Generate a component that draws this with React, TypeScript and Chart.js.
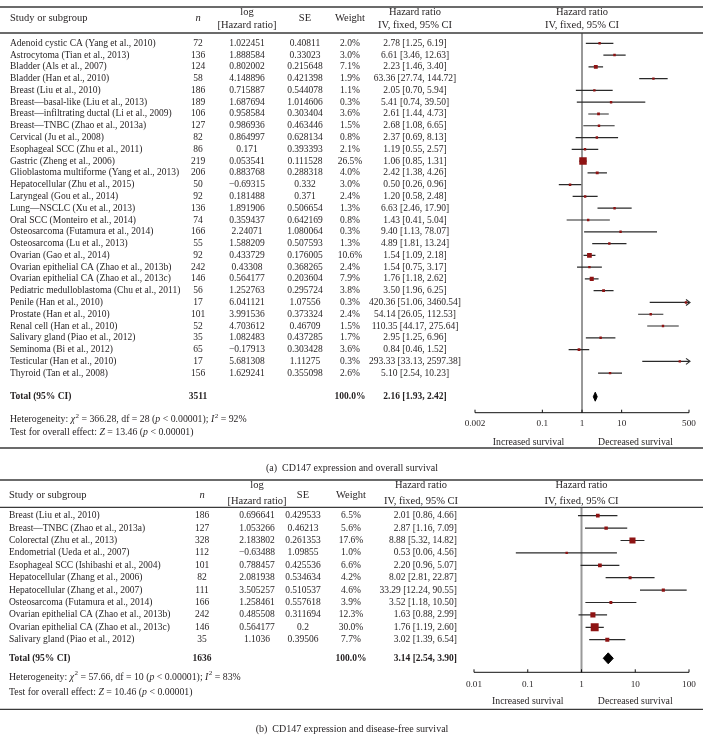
import React, { useEffect, useRef } from "react";
import { Chart, registerables } from "chart.js";
Chart.register(...registerables);

// ---------------- Panel (a): CD147 expression and overall survival ----------------
const studiesA = [
  "Adenoid cystic CA (Yang et al., 2010)",
  "Astrocytoma (Tian et al., 2013)",
  "Bladder (Als et al., 2007)",
  "Bladder (Han et al., 2010)",
  "Breast (Liu et al., 2010)",
  "Breast—basal-like (Liu et al., 2013)",
  "Breast—infiltrating ductal (Li et al., 2009)",
  "Breast—TNBC (Zhao et al., 2013a)",
  "Cervical (Ju et al., 2008)",
  "Esophageal SCC (Zhu et al., 2011)",
  "Gastric (Zheng et al., 2006)",
  "Glioblastoma multiforme (Yang et al., 2013)",
  "Hepatocellular (Zhu et al., 2015)",
  "Laryngeal (Gou et al., 2014)",
  "Lung—NSCLC (Xu et al., 2013)",
  "Oral SCC (Monteiro et al., 2014)",
  "Osteosarcoma (Futamura et al., 2014)",
  "Osteosarcoma (Lu et al., 2013)",
  "Ovarian (Gao et al., 2014)",
  "Ovarian epithelial CA (Zhao et al., 2013b)",
  "Ovarian epithelial CA (Zhao et al., 2013c)",
  "Pediatric medulloblastoma (Chu et al., 2011)",
  "Penile (Han et al., 2010)",
  "Prostate (Han et al., 2010)",
  "Renal cell (Han et al., 2010)",
  "Salivary gland (Piao et al., 2012)",
  "Seminoma (Bi et al., 2012)",
  "Testicular (Han et al., 2010)",
  "Thyroid (Tan et al., 2008)",
];
const nA = [72, 136, 124, 58, 186, 189, 106, 127, 82, 86, 219, 206, 50, 92, 136, 74, 166, 55, 92, 242, 146, 56, 17, 101, 52, 35, 65, 17, 156];
const logHrA = ["1.022451", "1.888584", "0.802002", "4.148896", "0.715887", "1.687694", "0.958584", "0.986936", "0.864997", "0.171", "0.053541", "0.883768", "−0.69315", "0.181488", "1.891906", "0.359437", "2.24071", "1.588209", "0.433729", "0.43308", "0.564177", "1.252763", "6.041121", "3.991536", "4.703612", "1.082483", "−0.17913", "5.681308", "1.629241"];
const seA = ["0.40811", "0.33023", "0.215648", "0.421398", "0.544078", "1.014606", "0.303404", "0.463446", "0.628134", "0.393393", "0.111528", "0.288318", "0.332", "0.371", "0.506654", "0.642169", "1.080064", "0.507593", "0.176005", "0.368265", "0.203604", "0.295724", "1.07556", "0.373324", "0.46709", "0.437285", "0.303428", "1.11275", "0.355098"];
const weightA = [2.0, 3.0, 7.1, 1.9, 1.1, 0.3, 3.6, 1.5, 0.8, 2.1, 26.5, 4.0, 3.0, 2.4, 1.3, 0.8, 0.3, 1.3, 10.6, 2.4, 7.9, 3.8, 0.3, 2.4, 1.5, 1.7, 3.6, 0.3, 2.6];
const hrA = [2.78, 6.61, 2.23, 63.36, 2.05, 5.41, 2.61, 2.68, 2.37, 1.19, 1.06, 2.42, 0.5, 1.2, 6.63, 1.43, 9.4, 4.89, 1.54, 1.54, 1.76, 3.5, 420.36, 54.14, 110.35, 2.95, 0.84, 293.33, 5.1];
const lowerA = [1.25, 3.46, 1.46, 27.74, 0.7, 0.74, 1.44, 1.08, 0.69, 0.55, 0.85, 1.38, 0.26, 0.58, 2.46, 0.41, 1.13, 1.81, 1.09, 0.75, 1.18, 1.96, 51.06, 26.05, 44.17, 1.25, 0.46, 33.13, 2.54];
const upperA = [6.19, 12.63, 3.4, 144.72, 5.94, 39.5, 4.73, 6.65, 8.13, 2.57, 1.31, 4.26, 0.96, 2.48, 17.9, 5.04, 78.07, 13.24, 2.18, 3.17, 2.62, 6.25, 3460.54, 112.53, 275.64, 6.96, 1.52, 2597.38, 10.23];
const totalNA = 3511;
const totalHrA = [2.16, 1.93, 2.42];
const hetA = ["366.28", "28", "0.00001", "92"];
const overallA = ["13.46", "0.00001"];
const ticksA = [0.002, 0.1, 1, 10, 500];
const tickLabelsA = ["0.002", "0.1", "1", "10", "500"];

// ---------------- Panel (b): CD147 expression and disease-free survival ----------------
const studiesB = [
  "Breast (Liu et al., 2010)",
  "Breast—TNBC (Zhao et al., 2013a)",
  "Colorectal (Zhu et al., 2013)",
  "Endometrial (Ueda et al., 2007)",
  "Esophageal SCC (Ishibashi et al., 2004)",
  "Hepatocellular (Zhang et al., 2006)",
  "Hepatocellular (Zhang et al., 2007)",
  "Osteosarcoma (Futamura et al., 2014)",
  "Ovarian epithelial CA (Zhao et al., 2013b)",
  "Ovarian epithelial CA (Zhao et al., 2013c)",
  "Salivary gland (Piao et al., 2012)",
];
const nB = [186, 127, 328, 112, 101, 82, 111, 166, 242, 146, 35];
const logHrB = ["0.696641", "1.053266", "2.183802", "−0.63488", "0.788457", "2.081938", "3.505257", "1.258461", "0.485508", "0.564177", "1.1036"];
const seB = ["0.429533", "0.46213", "0.261353", "1.09855", "0.425536", "0.534634", "0.510537", "0.557618", "0.311694", "0.2", "0.39506"];
const weightB = [6.5, 5.6, 17.6, 1.0, 6.6, 4.2, 4.6, 3.9, 12.3, 30.0, 7.7];
const hrB = [2.01, 2.87, 8.88, 0.53, 2.2, 8.02, 33.29, 3.52, 1.63, 1.76, 3.02];
const lowerB = [0.86, 1.16, 5.32, 0.06, 0.96, 2.81, 12.24, 1.18, 0.88, 1.19, 1.39];
const upperB = [4.66, 7.09, 14.82, 4.56, 5.07, 22.87, 90.55, 10.5, 2.99, 2.6, 6.54];
const totalNB = 1636;
const totalHrB = [3.14, 2.54, 3.9];
const hetB = ["57.66", "10", "0.00001", "83"];
const overallB = ["10.46", "0.00001"];
const ticksB = [0.01, 0.1, 1, 10, 100];
const tickLabelsB = ["0.01", "0.1", "1", "10", "100"];

const FONT = '"Liberation Serif", "Times New Roman", serif';
const TXT = "#231f20";
const W = 703;

type Spec = {
  studies: string[]; n: number[]; logHr: string[]; se: string[]; weight: number[];
  hr: number[]; lower: number[]; upper: number[]; totalN: number; total: number[];
  het: string[]; overall: string[]; ticks: number[]; tickLabels: string[];
  caption: string;
  H: number; ca: { l: number; r: number; t: number; b: number };
  row0: number; step: number; totalRow: number; diamondHalf: number;
  topRule: number; headRule: number; bottomRule: number;
  h1: number; h2: number; hm: number;
  studyX: number; nX: number; logX: number; seX: number; wX: number;
  hrX: number; hrAlign: CanvasTextAlign; hrHeadX: number;
  hetY: number; testY: number; tickY: number; survY: number; capY: number;
  nullColor: string; nullWidth: number; size: number; headSize: number;
};

const fmt = (v: number) => v.toFixed(2);

function ForestPanel({ spec, top }: { spec: Spec; top: number }) {
  const ref = useRef<HTMLCanvasElement>(null);
  useEffect(() => {
    const s = spec;
    const canvas = ref.current!;
    const yMin = (s.ca.t - s.row0) / s.step;
    const yMax = (s.ca.b - s.row0) / s.step;
    const xMin = s.ticks[0];
    const xMax = s.ticks[s.ticks.length - 1];

    const ciSets: any[] = s.hr.map((_, i) => ({
      type: "line",
      data: [{ x: s.lower[i], y: i }, { x: s.upper[i], y: i }],
      borderColor: "#2a2a2a",
      borderWidth: 1.2,
      pointRadius: 0,
      fill: false,
      order: 3,
    }));
    const squares: any = {
      type: "scatter",
      data: s.hr.map((v, i) => ({ x: v, y: i })),
      pointStyle: "rect",
      pointRadius: s.weight.map((w) => Math.max(2.4, 1.45 * Math.sqrt(w)) / (2 * Math.SQRT1_2)),
      backgroundColor: "#8e1313",
      borderWidth: 0,
      order: 2,
    };
    const t = s.totalRow, h = s.diamondHalf;
    const diamond: any = {
      type: "line",
      data: [
        { x: s.total[1], y: t }, { x: s.total[0], y: t - h }, { x: s.total[2], y: t },
        { x: s.total[0], y: t + h }, { x: s.total[1], y: t },
      ],
      borderColor: "#000",
      backgroundColor: "#000",
      borderWidth: 1,
      pointRadius: 0,
      fill: "shape",
      order: 1,
    };

    const line = (ctx: CanvasRenderingContext2D, x1: number, y1: number, x2: number, y2: number) => {
      ctx.beginPath(); ctx.moveTo(x1, y1); ctx.lineTo(x2, y2); ctx.stroke();
    };
    const rich = (ctx: CanvasRenderingContext2D, x: number, y: number, segs: [string, string][]) => {
      let cx = x;
      ctx.textAlign = "left";
      const sz = s.size + 0.3;
      for (const [txt, st] of segs) {
        if (st === "sup") {
          ctx.font = `${sz * 0.72}px ${FONT}`;
          ctx.fillText(txt, cx + 0.5, y - sz * 0.38);
          cx += ctx.measureText(txt).width + 0.5;
        } else {
          ctx.font = `${st === "i" ? "italic " : ""}${sz}px ${FONT}`;
          ctx.fillText(txt, cx, y);
          cx += ctx.measureText(txt).width;
        }
      }
    };

    const decor = {
      id: "decor",
      beforeDatasetsDraw(chart: any) {
        const { ctx, chartArea: ca, scales } = chart;
        const px = scales.x.getPixelForValue(1);
        ctx.save();
        ctx.strokeStyle = s.nullColor;
        ctx.lineWidth = s.nullWidth;
        line(ctx, px, ca.top, px, ca.bottom);
        ctx.restore();
      },
      afterDatasetsDraw(chart: any) {
        const { ctx, chartArea: ca, scales } = chart;
        const x = scales.x, y = scales.y;
        ctx.save();
        // rules
        ctx.strokeStyle = "#3a3a3a";
        ctx.lineWidth = 1.3;
        line(ctx, 0, s.topRule, W, s.topRule);
        line(ctx, 0, s.headRule, W, s.headRule);
        line(ctx, 0, s.bottomRule, W, s.bottomRule);
        // axis
        ctx.strokeStyle = "#111";
        ctx.lineWidth = 1;
        line(ctx, ca.left, ca.bottom, ca.right, ca.bottom);
        ctx.fillStyle = TXT;
        ctx.textBaseline = "middle";
        ctx.textAlign = "center";
        ctx.font = `${s.size - 0.3}px ${FONT}`;
        s.ticks.forEach((tv, i) => {
          const px = x.getPixelForValue(tv);
          line(ctx, px, ca.bottom - 3, px, ca.bottom);
          ctx.fillText(s.tickLabels[i], px, s.tickY);
        });
        const mid = x.getPixelForValue(1);
        ctx.font = `${s.size + 0.3}px ${FONT}`;
        ctx.fillText("Increased survival", (ca.left + mid) / 2, s.survY);
        ctx.fillText("Decreased survival", (mid + ca.right) / 2, s.survY);
        // arrows for CIs beyond axis
        ctx.strokeStyle = "#2a2a2a";
        ctx.lineWidth = 1.1;
        s.upper.forEach((u, i) => {
          if (u > xMax) {
            const py = y.getPixelForValue(i);
            const ex = ca.right + 1;
            ctx.beginPath();
            ctx.moveTo(ex - 4, py - 3); ctx.lineTo(ex, py); ctx.lineTo(ex - 4, py + 3);
            ctx.stroke();
          }
        });
        // header
        ctx.font = `${s.headSize}px ${FONT}`;
        ctx.textAlign = "left";
        ctx.fillText("Study or subgroup", s.studyX, s.hm);
        ctx.textAlign = "center";
        ctx.font = `italic ${s.headSize}px ${FONT}`;
        ctx.fillText("n", s.nX, s.hm);
        ctx.font = `${s.headSize}px ${FONT}`;
        ctx.fillText("log", s.logX, s.h1);
        ctx.fillText("[Hazard ratio]", s.logX, s.h2);
        ctx.fillText("SE", s.seX, s.hm);
        ctx.fillText("Weight", s.wX, s.hm);
        ctx.fillText("Hazard ratio", s.hrHeadX, s.h1);
        ctx.fillText("IV, fixed, 95% CI", s.hrHeadX, s.h2);
        const fc = (ca.left + ca.right) / 2;
        ctx.fillText("Hazard ratio", fc, s.h1);
        ctx.fillText("IV, fixed, 95% CI", fc, s.h2);
        // rows
        ctx.font = `${s.size}px ${FONT}`;
        s.studies.forEach((name, i) => {
          const py = y.getPixelForValue(i);
          ctx.textAlign = "left";
          ctx.fillText(name, s.studyX, py);
          ctx.textAlign = "center";
          ctx.fillText(String(s.n[i]), s.nX, py);
          ctx.fillText(s.logHr[i], s.logX, py);
          ctx.fillText(s.se[i], s.seX, py);
          ctx.fillText(s.weight[i].toFixed(1) + "%", s.wX, py);
          ctx.textAlign = s.hrAlign;
          ctx.fillText(`${fmt(s.hr[i])} [${fmt(s.lower[i])}, ${fmt(s.upper[i])}]`, s.hrX, py);
        });
        // total row
        const ty = y.getPixelForValue(s.totalRow);
        ctx.font = `bold ${s.size}px ${FONT}`;
        ctx.textAlign = "left";
        ctx.fillText("Total (95% CI)", s.studyX, ty);
        ctx.textAlign = "center";
        ctx.fillText(String(s.totalN), s.nX, ty);
        ctx.fillText("100.0%", s.wX, ty);
        ctx.textAlign = s.hrAlign;
        ctx.fillText(`${fmt(s.total[0])} [${fmt(s.total[1])}, ${fmt(s.total[2])}]`, s.hrX, ty);
        // footer
        rich(ctx, s.studyX, s.hetY, [
          ["Heterogeneity: ", ""], ["χ", "i"], ["2", "sup"], [` = ${s.het[0]}, df = ${s.het[1]} (`, ""],
          ["p", "i"], [` < ${s.het[2]}); `, ""], ["I", "i"], ["2", "sup"], [` = ${s.het[3]}%`, ""],
        ]);
        rich(ctx, s.studyX, s.testY, [
          ["Test for overall effect: ", ""], ["Z", "i"], [` = ${s.overall[0]} (`, ""],
          ["p", "i"], [` < ${s.overall[1]})`, ""],
        ]);
        // caption
        ctx.font = `${s.size + 0.5}px ${FONT}`;
        ctx.textAlign = "center";
        ctx.fillText(s.caption, 352, s.capY);
        ctx.restore();
      },
    };

    const chart = new Chart(canvas, {
      type: "scatter",
      data: { datasets: [...ciSets, squares, diamond] },
      options: {
        responsive: false,
        animation: false,
        events: [],
        layout: { padding: { left: s.ca.l, right: W - s.ca.r, top: s.ca.t, bottom: s.H - s.ca.b } },
        scales: {
          x: { type: "logarithmic", min: xMin, max: xMax, display: false },
          y: { type: "linear", min: yMin, max: yMax, reverse: true, display: false },
        },
        plugins: { legend: { display: false }, tooltip: { enabled: false } },
      } as any,
      plugins: [decor],
    } as any);
    return () => chart.destroy();
  }, [spec]);
  return (
    <canvas
      ref={ref}
      width={W}
      height={spec.H}
      style={{ position: "absolute", left: 0, top, width: W, height: spec.H }}
    />
  );
}

const specA: Spec = {
  studies: studiesA, n: nA, logHr: logHrA, se: seA, weight: weightA,
  hr: hrA, lower: lowerA, upper: upperA, totalN: totalNA, total: totalHrA,
  het: hetA, overall: overallA, ticks: ticksA, tickLabels: tickLabelsA,
  caption: "(a)  CD147 expression and overall survival",
  H: 475, ca: { l: 475, r: 689, t: 33, b: 412.7 },
  row0: 43.3, step: 11.78, totalRow: 30, diamondHalf: 0.38,
  topRule: 7, headRule: 33, bottomRule: 448,
  h1: 12.5, h2: 25, hm: 18.5,
  studyX: 10, nX: 198, logX: 247, seX: 305, wX: 350,
  hrX: 415, hrAlign: "center", hrHeadX: 415,
  hetY: 419.5, testY: 432, tickY: 423.5, survY: 442, capY: 468,
  nullColor: "#333", nullWidth: 1, size: 9.5, headSize: 10.5,
};

const specB: Spec = {
  studies: studiesB, n: nB, logHr: logHrB, se: seB, weight: weightB,
  hr: hrB, lower: lowerB, upper: upperB, totalN: totalNB, total: totalHrB,
  het: hetB, overall: overallB, ticks: ticksB, tickLabels: tickLabelsB,
  caption: "(b)  CD147 expression and disease-free survival",
  H: 262, ca: { l: 474, r: 689, t: 32.3, b: 197.3 },
  row0: 40.7, step: 12.4, totalRow: 11.5, diamondHalf: 0.44,
  topRule: 5, headRule: 32.3, bottomRule: 234.3,
  h1: 10.5, h2: 26.5, hm: 20,
  studyX: 9, nX: 202, logX: 257, seX: 303, wX: 351,
  hrX: 457, hrAlign: "right", hrHeadX: 421,
  hetY: 202.3, testY: 217.7, tickY: 210, survY: 226.7, capY: 254,
  nullColor: "#999", nullWidth: 2, size: 9.5, headSize: 10.5,
};

export default function App() {
  return (
    <div style={{ position: "absolute", left: 0, top: 0, width: W, height: 737, background: "#fff" }}>
      <ForestPanel spec={specA} top={0} />
      <ForestPanel spec={specB} top={475} />
    </div>
  );
}
